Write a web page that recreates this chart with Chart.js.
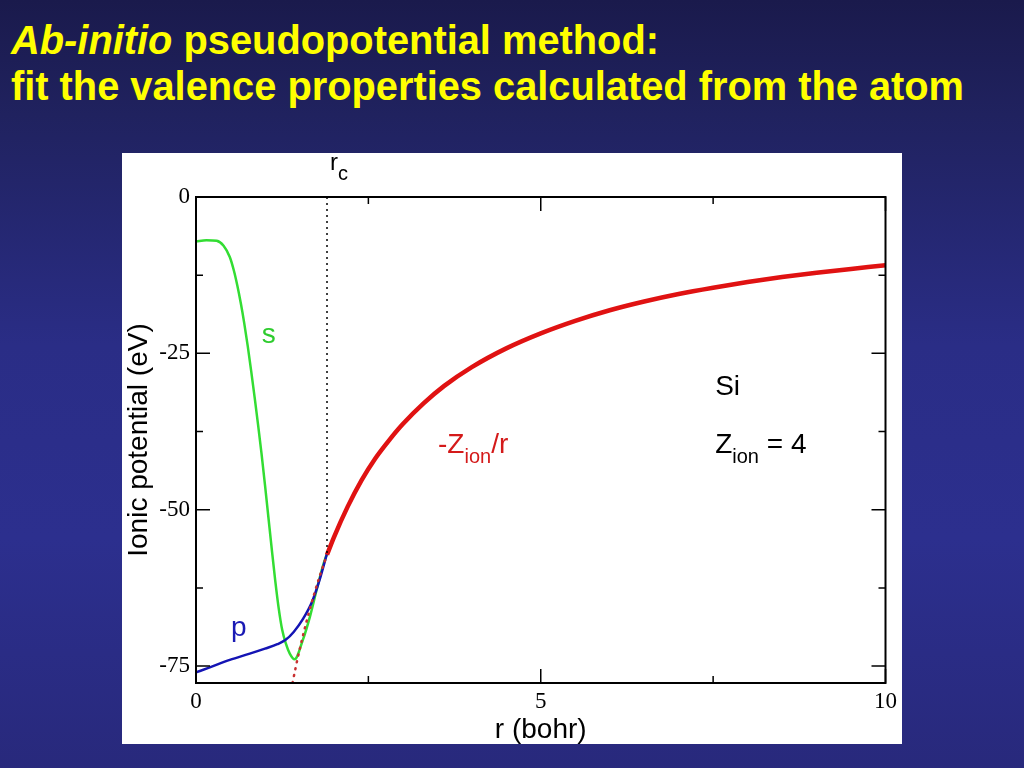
<!DOCTYPE html>
<html><head><meta charset="utf-8">
<script src="https://cdn.jsdelivr.net/npm/chart.js@4.4.1/dist/chart.umd.min.js"></script>
<style>
html,body{margin:0;padding:0;width:1024px;height:768px;overflow:hidden;}
body{background:linear-gradient(180deg,#1a1a4c 0%,#20225f 15%,#2a2d86 45%,#2c2f8e 70%,#28297c 100%);position:relative;}
.t{position:absolute;left:11px;color:#ffff00;font-family:"Liberation Sans",Arial,sans-serif;font-weight:bold;font-size:40px;line-height:40px;white-space:nowrap;transform-origin:0 0;}
#box{position:absolute;left:122px;top:153px;width:780px;height:591px;background:#fff;}
</style></head>
<body>
<div class="t" id="t1" style="top:20px"><i>Ab-initio</i> pseudopotential method:</div>
<div class="t" id="t2" style="top:66px">fit the valence properties calculated from the atom</div>
<div id="box"><canvas id="c" width="780" height="591"></canvas></div>
<script>
// s pseudopotential (green)
const sR = [0, 0.15, 0.30, 0.40, 0.49, 0.55, 0.60, 0.65, 0.70, 0.75, 0.80, 0.85, 0.90, 0.95, 1.00, 1.05, 1.10, 1.15, 1.20, 1.25, 1.30, 1.36, 1.43, 1.55, 1.65, 1.75, 1.835, 1.9];
const sV = [-7.1, -6.9, -7.0, -7.8, -9.6, -11.8, -14.2, -17.0, -20.2, -23.8, -27.8, -32.0, -36.4, -41.0, -46.0, -51.2, -56.4, -61.4, -65.8, -69.2, -71.3, -73.0, -73.9, -70.8, -67.2, -62.8, -59.2, -57.0];
// p pseudopotential (blue)
const pR = [0, 0.2, 0.49, 0.78, 1.0, 1.18, 1.3, 1.42, 1.55, 1.68, 1.79, 1.9];
const pV = [-76.0, -75.2, -74.0, -73.0, -72.2, -71.5, -70.8, -69.5, -67.5, -64.8, -61.3, -57.0];
// -Zion/r beyond rc (red, solid)
const zR = [1.9, 2.0, 2.2, 2.4, 2.6, 2.8, 3.0, 3.3, 3.6, 4.0, 4.5, 5.0, 5.5, 6.0, 6.5, 7.0, 7.5, 8.0, 8.5, 9.0, 9.5, 10.0];
const zV = [-57.2, -54.4, -49.5, -45.3, -41.8, -38.9, -36.3, -33.0, -30.2, -27.2, -24.2, -21.8, -19.8, -18.1, -16.7, -15.5, -14.5, -13.6, -12.8, -12.1, -11.5, -10.9];
// -Zion/r inside rc (red, dotted)
const zdR = [1.40, 1.45, 1.5, 1.6, 1.7, 1.8, 1.9];
const zdV = [-77.7, -75.0, -72.5, -68.0, -64.0, -60.4, -57.2];
// rc marker
const rcR = [1.9, 1.9];
const rcV = [0, -57.2];
// axis ticks
const xTicks = [0, 5, 10];
const xMinor = [2.5, 7.5];
const yTicks = [-75, -50, -25, 0];
const yMinor = [-62.5, -37.5, -12.5];

const toXY = (a, b) => a.map((x, i) => ({x: x, y: b[i]}));
const SANS = '"Liberation Sans", Arial, sans-serif';
const SERIF = '"Liberation Serif", "Times New Roman", serif';

const notes = [
  {r: 0.954, v: -23.4, color: '#2ecc2e', parts: [['s', 0]]},
  {r: 0.506, v: -70.2, color: '#1a1ab4', parts: [['p', 0]]},
  {r: 3.51, v: -40.9, color: '#d41a1a', parts: [['-Z', 0], ['ion', 1], ['/r', 0]]},
  {r: 7.53, v: -31.7, color: '#000', parts: [['Si', 0]]},
  {r: 7.53, v: -40.9, color: '#000', parts: [['Z', 0], ['ion', 1], [' = 4', 0]]}
];

function drawParts(ctx, parts, x, y, big, small, drop) {
  let cx = x;
  parts.forEach(p => {
    ctx.font = (p[1] ? small : big) + 'px ' + SANS;
    ctx.fillText(p[0], cx, y + (p[1] ? drop : 0));
    cx += ctx.measureText(p[0]).width;
  });
}

const frame = {
  id: 'frame',
  afterDraw(chart) {
    const ctx = chart.ctx, a = chart.chartArea;
    const xs = chart.scales.x, ys = chart.scales.y;
    ctx.save();
    ctx.strokeStyle = '#000';
    ctx.lineWidth = 2;
    ctx.strokeRect(a.left, a.top, a.right - a.left, a.bottom - a.top);
    ctx.lineWidth = 1.5;
    ctx.beginPath();
    const tick = (vals, len) => {
      vals.forEach(v => {
        const px = xs.getPixelForValue(v);
        ctx.moveTo(px, a.bottom); ctx.lineTo(px, a.bottom - len);
        ctx.moveTo(px, a.top); ctx.lineTo(px, a.top + len);
      });
    };
    tick(xTicks, 14); tick(xMinor, 7);
    const ytick = (vals, len) => {
      vals.forEach(v => {
        const py = ys.getPixelForValue(v);
        ctx.moveTo(a.left, py); ctx.lineTo(a.left + len, py);
        ctx.moveTo(a.right, py); ctx.lineTo(a.right - len, py);
      });
    };
    ytick(yTicks, 14); ytick(yMinor, 7);
    ctx.stroke();
    // rc label
    ctx.fillStyle = '#000';
    ctx.textBaseline = 'alphabetic';
    drawParts(ctx, [['r', 0], ['c', 1]], xs.getPixelForValue(rcR[0]) + 3, 17, 24, 20, 10);
    notes.forEach(n => {
      ctx.fillStyle = n.color;
      drawParts(ctx, n.parts, xs.getPixelForValue(n.r), ys.getPixelForValue(n.v), 28, 20, 10);
    });
    ctx.restore();
  }
};

new Chart(document.getElementById('c'), {
  type: 'line',
  data: {datasets: [
    {data: toXY(rcR, rcV), borderColor: '#000', borderWidth: 1.5, borderDash: [2, 4], pointRadius: 0, tension: 0},
    {data: toXY(zR, zV), borderColor: '#e01212', borderWidth: 4.5, pointRadius: 0, cubicInterpolationMode: 'monotone'},
    {data: toXY(zdR, zdV), borderColor: '#c83030', borderWidth: 2.5, borderDash: [1, 6], borderCapStyle: 'round', pointRadius: 0, cubicInterpolationMode: 'monotone'},
    {data: toXY(pR, pV), borderColor: '#1414b4', borderWidth: 2.5, pointRadius: 0, cubicInterpolationMode: 'monotone'},
    {data: toXY(sR, sV), borderColor: '#33dd33', borderWidth: 2.5, pointRadius: 0, cubicInterpolationMode: 'monotone'}
  ]},
  options: {
    responsive: false, animation: false,
    layout: {padding: {top: 44, right: 13, left: 0, bottom: 0}},
    plugins: {legend: {display: false}, tooltip: {enabled: false}},
    scales: {
      x: {type: 'linear', min: 0, max: 10,
        grid: {display: false, drawTicks: false}, border: {display: false},
        afterBuildTicks: s => { s.ticks = xTicks.map(v => ({value: v})); },
        afterFit: s => { s.height = 61; },
        ticks: {font: {family: SERIF, size: 23}, color: '#000', padding: 5, maxRotation: 0, autoSkip: false, callback: v => String(v)},
        title: {display: true, text: 'r (bohr)', color: '#000', font: {family: SANS, size: 28}, padding: {top: 0, bottom: -3}}
      },
      y: {type: 'linear', min: -77.7, max: 0,
        grid: {display: false, drawTicks: false}, border: {display: false},
        afterBuildTicks: s => { s.ticks = yTicks.map(v => ({value: v})); },
        afterFit: s => { s.width = 74; },
        ticks: {font: {family: SERIF, size: 23}, color: '#000', padding: 6, autoSkip: false, callback: v => String(v)},
        title: {display: true, text: 'Ionic potential (eV)', color: '#000', font: {family: SANS, size: 28}, padding: 0}
      }
    }
  },
  plugins: [frame]
});

// fit title widths to the reference
[['t1', 648], ['t2', 953]].forEach(([id, w]) => {
  const el = document.getElementById(id);
  const k = w / el.getBoundingClientRect().width;
  el.style.transform = 'scaleX(' + k + ')';
});
</script>
</body></html>
